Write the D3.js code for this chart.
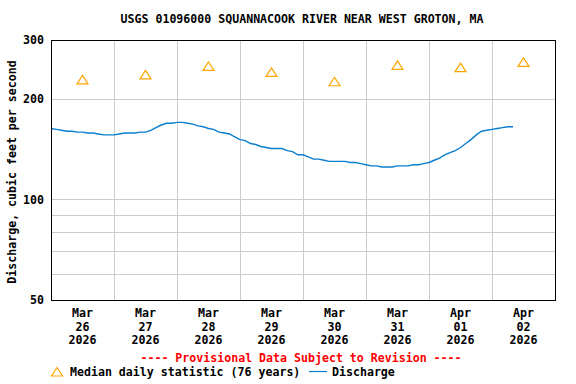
<!DOCTYPE html>
<html>
<head>
<meta charset="utf-8">
<style>
  body { margin: 0; background: #fff; }
  svg text { font-family: "DejaVu Sans Mono", monospace; font-weight: bold; font-size: 11.6px; }
</style>
<title>USGS 01096000</title>
</head>
<body>
<svg id="chart"></svg>
<script src="https://cdn.jsdelivr.net/npm/d3@7"></script>
<script>

// ============ Data ============
var TITLE = "USGS 01096000 SQUANNACOOK RIVER NEAR WEST GROTON, MA";
var days = ["2026-03-26", "2026-03-27", "2026-03-28", "2026-03-29",
            "2026-03-30", "2026-03-31", "2026-04-01", "2026-04-02"];
var dayMonth = ["Mar", "Mar", "Mar", "Mar", "Mar", "Mar", "Apr", "Apr"];
var dayNum = ["26", "27", "28", "29", "30", "31", "01", "02"];
var medians = [228, 236, 250, 240, 225, 252, 248, 257];
// discharge, every 2 hours from Mar 26 00:00
var dischargeStart = "2026-03-26T00:00";
var discharge = [
  163, 162, 161, 160, 160, 159, 159, 158, 158, 157,
  156, 156, 156, 157, 158, 158, 158, 159, 159, 161,
  164, 167, 169, 169, 170, 170, 169, 168, 166, 165,
  163, 162, 159, 158, 157, 154, 151, 150, 147, 146,
  144, 143, 142, 142, 142, 140, 139, 136, 136, 134,
  132, 132, 131, 130, 130, 130, 130, 129, 129, 128,
  127, 126, 126, 125, 125, 125, 126, 126, 126, 127,
  127, 128, 129, 131, 133, 136, 138, 140, 143, 147,
  151, 156, 160, 161, 162, 163, 164, 165, 165
];
var yTicks = [50, 100, 200, 300];
var yGrid = [60, 70, 80, 90, 100, 200];

// ============ Layout ============
var W = 576, H = 384;
var plot = {left: 51, top: 40, right: 555, bottom: 300};
var BLUE = "#0a7fd0", ORANGE = "#ffa500", GRID = "#cccccc";

var parseDay = d3.utcParse("%Y-%m-%d");
var parseTime = d3.utcParse("%Y-%m-%dT%H:%M");

var x = d3.scaleUtc()
    .domain([parseDay(days[0]), d3.utcDay.offset(parseDay(days[days.length - 1]), 1)])
    .range([plot.left, plot.right]);
var y = d3.scaleLog()
    .domain([50, 300])
    .range([plot.bottom, plot.top]);

var svg = d3.select("#chart").attr("width", W).attr("height", H);

// Title
svg.append("text")
    .attr("x", 302).attr("y", 23)
    .attr("text-anchor", "middle")
    .text(TITLE);

// Grid lines
var grid = svg.append("g").attr("shape-rendering", "crispEdges");
days.slice(1).forEach(function(d) {
    var gx = Math.round(x(parseDay(d))) + 0.5;
    grid.append("line")
        .attr("x1", gx).attr("x2", gx)
        .attr("y1", plot.top).attr("y2", plot.bottom)
        .attr("stroke", GRID);
});
yGrid.forEach(function(v) {
    var gy = Math.round(y(v)) + 0.5;
    grid.append("line")
        .attr("x1", plot.left).attr("x2", plot.right)
        .attr("y1", gy).attr("y2", gy)
        .attr("stroke", GRID);
});

// Y axis labels
var yAxis = d3.axisLeft(y)
    .tickValues(yTicks)
    .tickFormat(d3.format("d"))
    .tickSize(0)
    .tickPadding(7);
var gy = svg.append("g")
    .attr("transform", `translate(${plot.left}, 0)`)
    .call(yAxis);
gy.select(".domain").remove();
gy.selectAll("text")
    .attr("font-family", null).attr("font-size", null)
    .attr("fill", "#000");

svg.append("text")
    .attr("transform", `translate(16, ${(plot.top + plot.bottom) / 2 + 2}) rotate(-90)`)
    .attr("text-anchor", "middle")
    .text("Discharge, cubic feet per second");

// X axis labels (at noon)
days.forEach(function(d, i) {
    var tx = x(d3.utcHour.offset(parseDay(d), 12));
    var t = svg.append("text")
        .attr("text-anchor", "middle");
    [dayMonth[i], dayNum[i], "2026"].forEach(function(s, k) {
        t.append("tspan")
            .attr("x", tx)
            .attr("y", 317 + k * 13.5)
            .text(s);
    });
});

// Discharge line
var t0 = parseTime(dischargeStart);
var line = d3.line()
    .x(function(d, i) { return x(d3.utcHour.offset(t0, i * 2)); })
    .y(function(d) { return y(d); });
svg.append("path")
    .datum(discharge)
    .attr("d", line)
    .attr("fill", "none")
    .attr("stroke", BLUE)
    .attr("stroke-width", 1.4);

// Median triangles
function triangle(cx, cy) {
    return `M${cx},${cy - 4.5}L${cx + 5.5},${cy + 4}L${cx - 5.5},${cy + 4}Z`;
}
svg.selectAll(".median")
    .data(medians)
    .enter()
    .append("path")
        .attr("class", "median")
        .attr("d", function(d, i) {
            return triangle(x(d3.utcHour.offset(parseDay(days[i]), 12)), y(d));
        })
        .attr("fill", "none")
        .attr("stroke", ORANGE)
        .attr("stroke-width", 1.2);

// Plot frame
svg.append("rect")
    .attr("x", plot.left + 0.5).attr("y", plot.top + 0.5)
    .attr("width", plot.right - plot.left)
    .attr("height", plot.bottom - plot.top)
    .attr("fill", "none")
    .attr("stroke", "#000")
    .attr("shape-rendering", "crispEdges");

// Provisional note
svg.append("text")
    .attr("x", 301).attr("y", 362)
    .attr("text-anchor", "middle")
    .attr("fill", "#ff0000")
    .text("---- Provisional Data Subject to Revision ----");

// Legend
svg.append("path")
    .attr("d", triangle(57, 372))
    .attr("fill", "none")
    .attr("stroke", ORANGE)
    .attr("stroke-width", 1.2);
svg.append("text")
    .attr("x", 70).attr("y", 376)
    .text("Median daily statistic (76 years)");
svg.append("line")
    .attr("x1", 309).attr("x2", 327)
    .attr("y1", 371.5).attr("y2", 371.5)
    .attr("stroke", BLUE)
    .attr("stroke-width", 1.2);
svg.append("text")
    .attr("x", 332).attr("y", 376)
    .text("Discharge");

</script>
</body>
</html>
